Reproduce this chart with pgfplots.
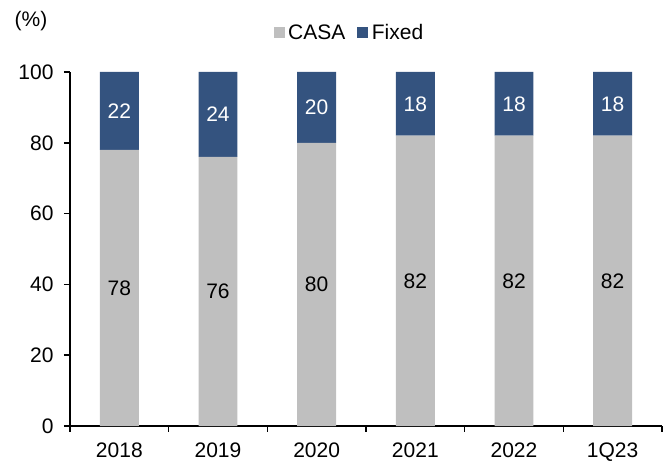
\documentclass[border=0pt]{standalone}
\usepackage{pgfplots}
\pgfplotsset{compat=1.18}
\usepackage{fontspec}
\setmainfont{Liberation Sans}
\definecolor{casa}{HTML}{BFBFBF}
\definecolor{fixed}{HTML}{34537F}
\pgfplotsset{
  common/.style={
    at={(70pt,35pt)}, anchor=south west,
    width=592pt, height=354pt, scale only axis,
    xmin=-0.5, xmax=5.5, ymin=0, ymax=100,
    /pgf/number format/assume math mode=true,
  }
}
\begin{document}
\begin{tikzpicture}[font=\fontsize{21}{25}\selectfont]
\begin{axis}[common,
  ybar stacked, bar width=0.395,
  axis x line*=bottom, axis y line*=left,
  axis line style={black, line width=1.8pt},
  tick align=outside, major tick length=6pt,
  tick style={black, line width=1.5pt},
  xtick={-0.5,0.5,1.5,2.5,3.5,4.5,5.5},
  xticklabels={2018,2019,2020,2021,2022,1Q23},
  x tick label as interval,
  ytick={0,20,40,60,80,100},
  yticklabel style={xshift=-7pt},
  xticklabel style={yshift=-7pt},
  legend columns=2,
  legend style={draw=none, fill=none, at={(0.472,1)}, anchor=center, yshift=39pt,
    /tikz/every odd column/.append style={column sep=1.5pt},
    /tikz/every even column/.append style={column sep=10pt}},
  legend image code/.code={\fill[#1] (0pt,-5.5pt) rectangle (11pt,5.5pt);},
]
\addplot[fill=casa, draw=none] coordinates {(0,78) (1,76) (2,80) (3,82) (4,82) (5,82)};
\addlegendentry{CASA}
\addplot[fill=fixed, draw=none] coordinates {(0,22) (1,24) (2,20) (3,18) (4,18) (5,18)};
\addlegendentry{Fixed}
\end{axis}
\begin{axis}[common, hide axis]
\addplot[draw=none, mark=none, nodes near coords, point meta=explicit symbolic,
  every node near coord/.style={anchor=center, text=black}]
  coordinates {(0,39)[78] (1,38)[76] (2,40)[80] (3,41)[82] (4,41)[82] (5,41)[82]};
\addplot[draw=none, mark=none, nodes near coords, point meta=explicit symbolic,
  every node near coord/.style={anchor=center, text=white}]
  coordinates {(0,89)[22] (1,88)[24] (2,90)[20] (3,91)[18] (4,91)[18] (5,91)[18]};
\end{axis}
\node at (31pt,440pt) {(\%)};
\pgfresetboundingbox
\useasboundingbox (0,0) rectangle (670pt,461pt);
\end{tikzpicture}
\end{document}
